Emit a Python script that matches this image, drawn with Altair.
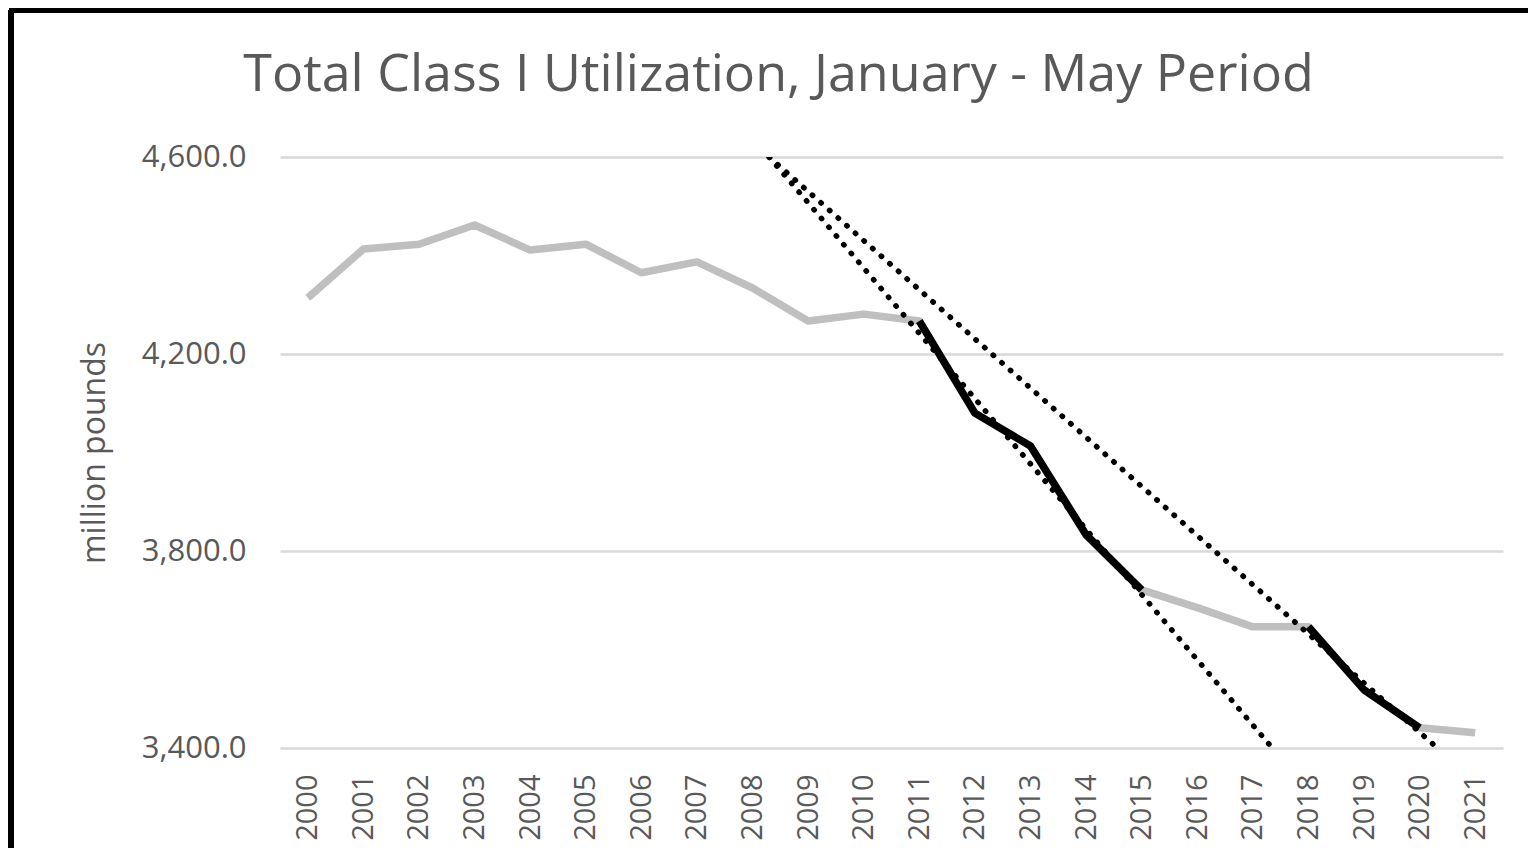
import altair as alt
import pandas as pd

years = list(range(2000, 2022))
total = [4314, 4413, 4423, 4462, 4411, 4423, 4365, 4387, 4334, 4267, 4281,
         4267, 4080, 4013, 3833, 3721, 3685, 3646, 3646, 3518, 3441, 3431]

seg_a_years = [2011, 2012, 2013, 2014, 2015]
seg_b_years = [2018, 2019, 2020]

trend_a_x = [2008.3, 2017.35]
trend_a_y = [4600, 3400]
trend_b_x = [2008.3, 2020.27]
trend_b_y = [4600, 3405]

y_ticks = [3400, 3800, 4200, 4600]

base_df = pd.DataFrame({"year": years, "value": total})
lookup = dict(zip(years, total))
hl_rows = [{"year": y, "value": lookup[y], "seg": "a"} for y in seg_a_years] + \
          [{"year": y, "value": lookup[y], "seg": "b"} for y in seg_b_years]
hl_df = pd.DataFrame(hl_rows)
tr_df = pd.DataFrame(
    [{"year": x, "value": v, "seg": "a"} for x, v in zip(trend_a_x, trend_a_y)] +
    [{"year": x, "value": v, "seg": "b"} for x, v in zip(trend_b_x, trend_b_y)]
)

FONT = "Open Sans"
GREY_TXT = "#595959"

x_enc = alt.X("year:Q",
              scale=alt.Scale(domain=[1999.5, 2021.5], nice=False, zero=False),
              axis=alt.Axis(values=years, format="d", labelAngle=-90, grid=False,
                            ticks=False, domain=False, title=None,
                            labelFontSize=29, labelFont=FONT, labelColor=GREY_TXT,
                            labelPadding=26, labelBound=False, labelOverlap=False))
y_enc = alt.Y("value:Q",
              scale=alt.Scale(domain=[3400, 4600], nice=False, zero=False),
              axis=alt.Axis(values=y_ticks, format=",.1f", ticks=False, domain=False,
                            title="million pounds", titleFontSize=32, titleFont=FONT,
                            titleColor=GREY_TXT, titleFontWeight="normal",
                            titlePadding=30,
                            labelFontSize=31, labelFont=FONT, labelColor=GREY_TXT,
                            labelPadding=34, gridColor="#d9d9d9", gridWidth=2.5))

grey = alt.Chart(base_df).mark_line(color="#bfbfbf", strokeWidth=7.5, strokeJoin="round").encode(
    x=x_enc, y=y_enc)
black = alt.Chart(hl_df).mark_line(color="#000000", strokeWidth=7.5, strokeJoin="round").encode(
    x="year:Q", y="value:Q", detail="seg:N")
trend = alt.Chart(tr_df).mark_line(color="#000000", strokeWidth=5.5, strokeDash=[0.5, 11],
                                   strokeCap="round", clip=True).encode(
    x="year:Q", y="value:Q", detail="seg:N")

# decorative frame (left and top edges of the picture border)
frame_left = alt.Chart(base_df).mark_rule(color="#000000", strokeWidth=5).encode(
    x=alt.value(-269), y=alt.value(-147), y2=alt.value(720))
frame_top = alt.Chart(base_df).mark_rule(color="#000000", strokeWidth=5).encode(
    x=alt.value(-271), x2=alt.value(1300), y=alt.value(-147))

chart = alt.layer(grey, black, trend, frame_left, frame_top).properties(
    width=1223, height=591,
    background="white",
    autosize=alt.AutoSizeParams(type="none"),
    padding={"left": 272, "top": 149, "right": 25, "bottom": 100},
    title=alt.TitleParams("Total Class I Utilization, January - May Period",
                          font=FONT, fontSize=52, fontWeight="normal", color=GREY_TXT,
                          anchor="middle", dx=-113, baseline="alphabetic", offset=0, dy=135),
).configure_view(strokeWidth=0, stroke="transparent")

chart.save("out.html", embed_options={"renderer": "svg", "actions": False})
